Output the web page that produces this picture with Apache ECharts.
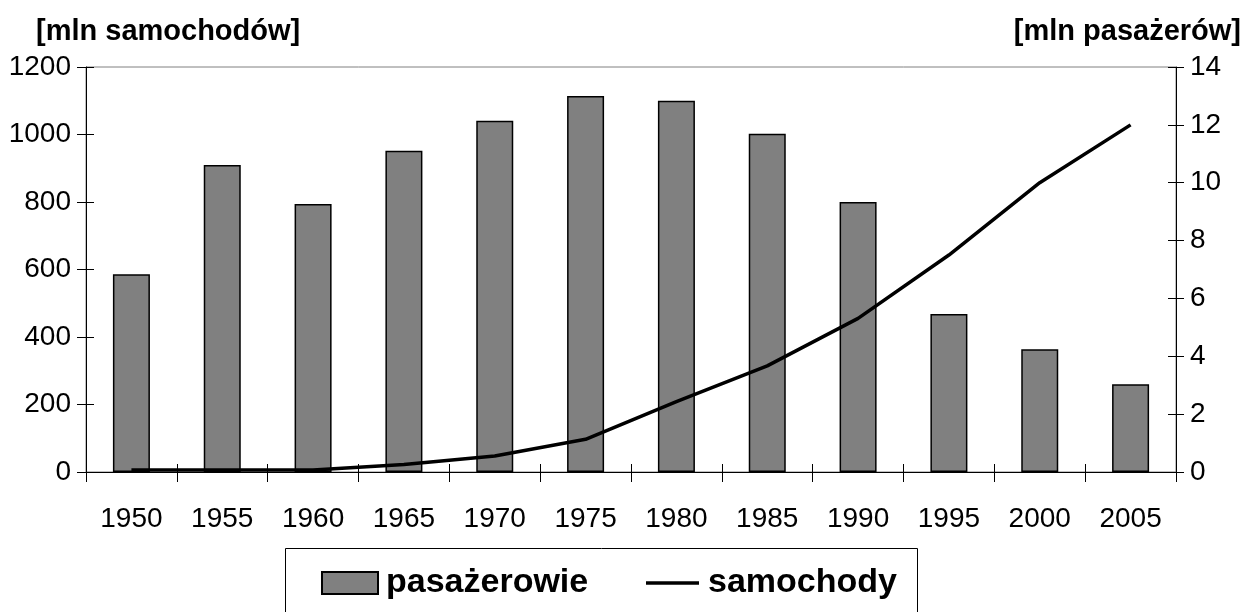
<!DOCTYPE html>
<html><head><meta charset="utf-8">
<script src="https://cdn.jsdelivr.net/npm/echarts@6/dist/echarts.min.js"></script>
<style>html,body{margin:0;padding:0;background:#fff}#c{width:1246px;height:612px}</style>
</head><body><div id="c"></div>
<script>
const categories = ['1950','1955','1960','1965','1970','1975','1980','1985','1990','1995','2000','2005'];
const pasazerowie = [586, 910, 794, 952, 1041, 1114, 1100, 1002, 800, 468, 364, 260];
const samochody = [0.07, 0.07, 0.07, 0.26, 0.55, 1.13, 2.43, 3.67, 5.31, 7.5, 10.0, 12.0];
const leftTicks = {min: 0, max: 1200, interval: 200};
const rightTicks = {min: 0, max: 14, interval: 2};
const leftTitle = '[mln samochodów]';
const rightTitle = '[mln pasażerów]';
const seriesNames = ['pasażerowie', 'samochody'];

const F = 'Arial, "Liberation Sans", sans-serif';
const chart = echarts.init(document.getElementById('c'), null, {renderer: 'canvas'});
const lbl = {color: '#000', fontSize: 28, fontFamily: F, formatter: v => String(v)};
const axLine = {show: true, lineStyle: {color: '#000', width: 1}};
const legText = {fontSize: 34, lineHeight: 34, fontWeight: 'bold', color: '#000', fontFamily: F};
chart.setOption({
  animation: false,
  backgroundColor: '#fff',
  title: [
    {text: leftTitle, left: 31, top: 12, textStyle: {fontSize: 29, fontWeight: 'bold', color: '#000', fontFamily: F}},
    {text: rightTitle, right: 0, top: 12, textStyle: {fontSize: 29, fontWeight: 'bold', color: '#000', fontFamily: F}}
  ],
  graphic: [
    {type: 'rect', shape: {x: 285.5, y: 548.5, width: 632, height: 90}, style: {fill: 'none', stroke: '#000', lineWidth: 1}, silent: true}
  ],
  grid: {left: 86, right: 70, top: 67, bottom: 140, show: true, borderColor: '#808080', borderWidth: 1, backgroundColor: 'transparent'},
  legend: [
    {left: 321, top: 566, padding: 0, itemWidth: 56, itemHeight: 22, itemGap: 0,
     textStyle: Object.assign({padding: [0, 0, 0, 3]}, legText),
     data: [{name: seriesNames[0], icon: 'rect'}]},
    {left: 646, top: 566, padding: 0, itemWidth: 53, itemHeight: 3.5, itemGap: 0,
     textStyle: Object.assign({padding: [0, 0, 0, 4]}, legText),
     data: [{name: seriesNames[1], icon: 'rect', itemStyle: {color: '#000', borderWidth: 0}}]}
  ],
  xAxis: [
    {type: 'category', data: categories, position: 'bottom', boundaryGap: true,
     axisLine: axLine, axisTick: {show: true, interval: 0, length: 10, lineStyle: {color: '#000'}},
     axisLabel: Object.assign({margin: 33, interval: 0}, lbl), splitLine: {show: false}},
    {type: 'category', data: categories, position: 'bottom', boundaryGap: true,
     axisLine: {show: false}, axisTick: {show: true, inside: true, interval: 0, length: 8, lineStyle: {color: '#000'}},
     axisLabel: {show: false}, splitLine: {show: false}}
  ],
  yAxis: [
    Object.assign({type: 'value', position: 'left', axisLine: axLine,
     axisTick: {show: true, length: 9, lineStyle: {color: '#000'}},
     axisLabel: Object.assign({margin: 15}, lbl), splitLine: {show: false}}, leftTicks),
    Object.assign({type: 'value', position: 'right', axisLine: axLine,
     axisTick: {show: true, length: 8, lineStyle: {color: '#000'}},
     axisLabel: Object.assign({margin: 14}, lbl), splitLine: {show: false}}, rightTicks),
    Object.assign({type: 'value', position: 'left', axisLine: {show: false},
     axisTick: {show: true, inside: true, length: 8, lineStyle: {color: '#000'}},
     axisLabel: {show: false}, splitLine: {show: false}}, leftTicks),
    Object.assign({type: 'value', position: 'right', axisLine: {show: false},
     axisTick: {show: true, inside: true, length: 8, lineStyle: {color: '#000'}},
     axisLabel: {show: false}, splitLine: {show: false}}, rightTicks)
  ],
  series: [
    {name: seriesNames[0], type: 'bar', xAxisIndex: 0, yAxisIndex: 0, data: pasazerowie, barWidth: 37,
     itemStyle: {color: '#808080', borderColor: '#000', borderWidth: 1.5}},
    {name: seriesNames[1], type: 'line', xAxisIndex: 0, yAxisIndex: 1, data: samochody,
     symbol: 'none', showSymbol: false, lineStyle: {color: '#000', width: 3.5}, itemStyle: {color: '#000'}}
  ]
});
</script></body></html>
